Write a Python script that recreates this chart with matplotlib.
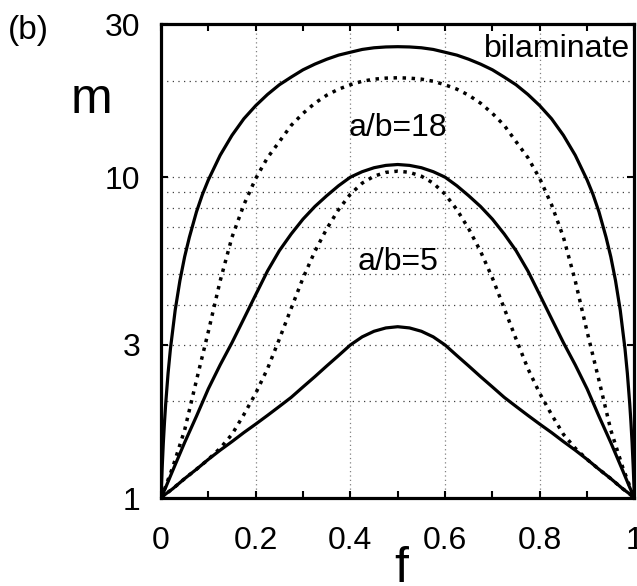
import matplotlib
matplotlib.use("Agg")
import matplotlib.pyplot as plt
from matplotlib.ticker import FixedLocator, NullFormatter

plt.rcParams['font.family'] = ['Liberation Sans', 'DejaVu Sans']

# volume fraction f and enhancement m (curves symmetric about f = 0.5)
f_bil = [0, 0.0025, 0.005, 0.0075, 0.01, 0.015, 0.02, 0.03, 0.04, 0.05, 0.06, 0.075, 0.0875, 0.1,
         0.125, 0.15, 0.175, 0.2, 0.225, 0.25, 0.275, 0.3, 0.325, 0.35, 0.375, 0.4, 0.425, 0.45, 0.475, 0.5,
         0.525, 0.55, 0.575, 0.6, 0.625, 0.65, 0.675, 0.7, 0.725, 0.75, 0.775, 0.8, 0.825, 0.85, 0.875,
         0.9, 0.9125, 0.925, 0.94, 0.95, 0.96, 0.97, 0.98, 0.985, 0.99, 0.9925, 0.995, 0.9975, 1]
m_bil = [1, 1.24, 1.49, 1.73, 1.97, 2.45, 2.92, 3.85, 4.76, 5.65, 6.5, 7.8, 8.83, 9.8,
         11.7, 13.5, 15.2, 16.7, 18.1, 19.4, 20.5, 21.6, 22.5, 23.3, 24.0, 24.5, 25.0, 25.3, 25.45, 25.5,
         25.45, 25.3, 25.0, 24.5, 24.0, 23.3, 22.5, 21.6, 20.5, 19.4, 18.1, 16.7, 15.2, 13.5, 11.7,
         9.8, 8.83, 7.8, 6.5, 5.65, 4.76, 3.85, 2.92, 2.45, 1.97, 1.73, 1.49, 1.24, 1]

f_std = [0, 0.01, 0.025, 0.05, 0.075, 0.1, 0.125, 0.15, 0.175, 0.2, 0.225, 0.25, 0.275, 0.3, 0.325,
         0.35, 0.375, 0.4, 0.425, 0.45, 0.475, 0.5, 0.525, 0.55, 0.575, 0.6, 0.625, 0.65, 0.675, 0.7,
         0.725, 0.75, 0.775, 0.8, 0.825, 0.85, 0.875, 0.9, 0.925, 0.95, 0.975, 0.99, 1]

# a/b = 18 : dotted (upper) and solid (lower)
m_18_dot = [1, 1.09, 1.25, 1.63, 2.33, 3.3, 4.75, 6.5, 8.2, 9.9, 11.5, 12.9, 14.5, 15.8, 17.0,
            18.0, 18.8, 19.4, 19.9, 20.2, 20.35, 20.4, 20.35, 20.2, 19.9, 19.4, 18.8, 18.0, 17.0, 15.8,
            14.5, 12.9, 11.5, 9.9, 8.2, 6.5, 4.75, 3.3, 2.33, 1.63, 1.25, 1.09, 1]
m_18_sol = [1, 1.08, 1.22, 1.49, 1.8, 2.19, 2.6, 3.05, 3.62, 4.3, 5.1, 5.9, 6.65, 7.4, 8.1,
            8.75, 9.4, 10.0, 10.4, 10.7, 10.88, 10.95, 10.88, 10.7, 10.4, 10.0, 9.4, 8.75, 8.1, 7.4,
            6.65, 5.9, 5.1, 4.3, 3.62, 3.05, 2.6, 2.19, 1.8, 1.49, 1.22, 1.08, 1]

# a/b = 5 : dotted (upper) and solid (lower)
m_5_dot = [1, 1.03, 1.07, 1.15, 1.23, 1.32, 1.43, 1.58, 1.82, 2.12, 2.53, 3.13, 3.9, 4.85, 5.87,
           6.9, 7.92, 8.85, 9.58, 10.07, 10.35, 10.44, 10.35, 10.07, 9.58, 8.85, 7.92, 6.9, 5.87, 4.85,
           3.9, 3.13, 2.53, 2.12, 1.82, 1.58, 1.43, 1.32, 1.23, 1.15, 1.07, 1.03, 1]
m_5_sol = [1, 1.03, 1.07, 1.15, 1.23, 1.32, 1.41, 1.5, 1.6, 1.7, 1.81, 1.93, 2.06, 2.22, 2.39,
           2.58, 2.78, 3.0, 3.18, 3.31, 3.39, 3.42, 3.39, 3.31, 3.18, 3.0, 2.78, 2.58, 2.39, 2.22,
           2.06, 1.93, 1.81, 1.7, 1.6, 1.5, 1.41, 1.32, 1.23, 1.15, 1.07, 1.03, 1]

x_ticks = [0, 0.2, 0.4, 0.6, 0.8, 1.0]
x_ticklabels = ['0', '0.2', '0.4', '0.6', '0.8', '1']
x_minor = [0.1, 0.3, 0.5, 0.7, 0.9]
y_ticks = [1, 3, 10, 30]
y_ticklabels = ['1', '3', '10', '30']
y_grid_minor = [2, 4, 5, 6, 7, 8, 9, 20]

fig = plt.figure(figsize=(6.37, 5.86), dpi=100)
ax = fig.add_axes([0.2527, 0.150, 0.7433, 0.809])

lw = 2.3
dot = dict(color='k', lw=2.5, linestyle=(0, (1, 1.6)), dash_capstyle='butt')
ax.plot(f_bil, m_bil, color='k', lw=lw)
ax.plot(f_std, m_18_dot, **dot)
ax.plot(f_std, m_18_sol, color='k', lw=lw)
ax.plot(f_std, m_5_dot, **dot)
ax.plot(f_std, m_5_sol, color='k', lw=lw)

ax.set_yscale('log')
ax.set_xlim(0, 1)
ax.set_ylim(1, 30)
ax.set_xticks(x_ticks)
ax.set_xticklabels(x_ticklabels)
ax.xaxis.set_minor_locator(FixedLocator(x_minor))
ax.yaxis.set_major_locator(FixedLocator(y_ticks))
ax.set_yticklabels(y_ticklabels)
ax.yaxis.set_minor_locator(FixedLocator(y_grid_minor))
ax.yaxis.set_minor_formatter(NullFormatter())

ax.tick_params(axis='both', which='major', direction='in', top=True, right=True,
               length=5, width=1.5, labelsize=23)
ax.tick_params(axis='x', which='major', pad=20)
ax.tick_params(axis='y', which='major', pad=15)
ax.tick_params(axis='x', which='minor', direction='in', top=True, length=5, width=1.5)
ax.tick_params(axis='y', which='minor', direction='in', right=True, length=0)

ax.grid(True, axis='y', which='both', color='0.25', lw=0.9, linestyle=(0, (1, 3.5)))
ax.grid(True, axis='x', which='major', color='0.5', lw=0.9, linestyle=(0, (1, 2.5)))
ax.set_axisbelow(True)

for s in ax.spines.values():
    s.set_linewidth(2.3)

ax.set_xlabel('f', fontsize=36)
ax.xaxis.set_label_coords(0.508, -0.100)
ax.set_ylabel('m', fontsize=36, rotation=0, va='center', ha='center')
ax.yaxis.set_label_coords(-0.146, 0.84)

ax.text(0.99, 25.0, 'bilaminate', fontsize=23, ha='right', va='center')
ax.text(0.5, 14.2, 'a/b=18', fontsize=23, ha='center', va='center')
ax.text(0.5, 5.44, 'a/b=5', fontsize=23, ha='center', va='center')
fig.text(8 / 637, 1 - 30 / 586, '(b)', fontsize=24, ha='left', va='center')

fig.savefig('out.png', dpi=100)
